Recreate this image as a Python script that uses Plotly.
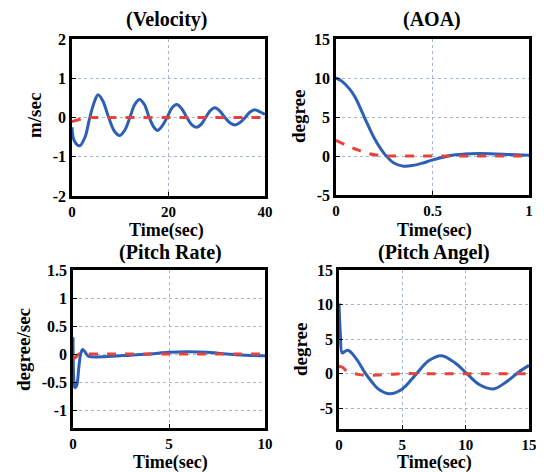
import plotly.graph_objects as go

# ---- data ----
vel_t = [0, 0.5, 1.6, 2.7, 3.6, 4.5, 5.4, 6.4, 7.6, 8.8, 9.9, 10.9, 12.0, 13.0, 14.0, 15.0, 16.0,
         17.0, 17.7, 18.6, 19.7, 20.7, 21.7, 22.7, 23.8, 24.8, 25.8, 26.8, 27.7, 28.7, 29.6,
         30.6, 31.7, 32.8, 33.8, 34.8, 35.9, 36.9, 37.9, 39.0, 40]
vel_blue = [-0.25, -0.6, -0.72, -0.5, -0.05, 0.35, 0.58, 0.42, 0.0, -0.35, -0.46, -0.33, 0.0,
            0.33, 0.46, 0.33, 0.0, -0.25, -0.33, -0.23, 0.0, 0.24, 0.33, 0.23, 0.0, -0.18,
            -0.25, -0.17, 0.0, 0.18, 0.25, 0.17, 0.0, -0.14, -0.19, -0.13, 0.0, 0.14, 0.2, 0.14, 0.08]
vel_red_t = [0, 1, 2, 3, 4, 6, 20, 40]
vel_red = [-0.1, -0.07, -0.03, -0.01, 0, 0, 0, 0]

aoa_t = [0, 0.03, 0.07, 0.1, 0.15, 0.2, 0.25, 0.3, 0.35, 0.4, 0.45, 0.5, 0.55, 0.6, 0.7, 0.8, 0.9, 1.0]
aoa_blue = [10, 9.6, 8.6, 7.5, 4.8, 2.2, 0.3, -0.9, -1.3, -1.2, -0.9, -0.5, -0.2, 0.1, 0.3, 0.3, 0.2, 0.1]
aoa_red_t = [0, 0.05, 0.1, 0.15, 0.2, 0.25, 0.3, 0.4, 0.6, 1.0]
aoa_red = [2, 1.4, 0.9, 0.45, 0.15, 0.02, 0, 0, 0, 0]

pr_t = [0, 0.05, 0.1, 0.2, 0.3, 0.4, 0.5, 0.6, 0.8, 1, 2, 3, 4, 5, 6, 7, 8, 9, 10]
pr_blue = [0.3, -0.5, -0.6, -0.55, -0.25, 0.0, 0.08, 0.05, -0.04, -0.05, -0.04, -0.02, 0.0,
           0.03, 0.04, 0.03, 0.0, -0.02, -0.03]
pr_red_t = [0, 0.1, 0.3, 0.5, 1, 5, 10]
pr_red = [-0.05, -0.07, 0, 0, 0, 0, 0]

pa_t = [0, 0.1, 0.25, 0.45, 0.7, 1.0, 1.5, 2.1, 2.6, 3.1, 4.0, 5.0, 6.0, 7.1, 8.1, 9.2, 10.1,
        11.1, 12.2, 13.2, 14.2, 15]
pa_blue = [10.2, 6, 3.0, 3.2, 3.4, 3.0, 1.8, 0.0, -1.2, -2.2, -2.9, -2.2, -0.25, 1.9, 2.6, 1.5,
           0.0, -1.6, -2.2, -1.2, 0.25, 1.2]
pa_red_t = [0, 0.3, 0.6, 1, 1.5, 2, 3, 4, 5, 7, 15]
pa_red = [1.1, 0.9, 0.4, 0.1, -0.1, -0.2, -0.2, -0.1, 0, 0, 0]

titles = ["(Velocity)", "(AOA)", "(Pitch Rate)", "(Pitch Angel)"]
ylabels = ["m/sec", "degree", "degree/sec", "degree"]
xlabel = "Time(sec)"

x_ticks = [[0, 20, 40], [0, 0.5, 1], [0, 5, 10], [0, 5, 10, 15]]
x_ticktext = [["0", "20", "40"], ["0", "0.5", "1"], ["0", "5", "10"], ["0", "5", "10", "15"]]
y_ticks = [[-2, -1, 0, 1, 2], [-5, 0, 5, 10, 15], [-1, -0.5, 0, 0.5, 1, 1.5], [-5, 0, 5, 10, 15]]
y_ticktext = [["-2", "-1", "0", "1", "2"], ["-5", "0", "5", "10", "15"],
              ["-1", "-0.5", "0", "0.5", "1", "1.5"], ["-5", "0", "5", "10", "15"]]
x_ranges = [[0, 40], [0, 1], [0, 10], [0, 15]]
y_ranges = [[-2, 2], [-5, 15], [-1.32, 1.5], [-8, 15]]

BLUE = "#2d5fb4"
RED = "#e8433a"
FONT = "Liberation Serif"

fig = go.Figure()

panels = [
    (vel_t, vel_blue, vel_red_t, vel_red, "x", "y"),
    (aoa_t, aoa_blue, aoa_red_t, aoa_red, "x2", "y2"),
    (pr_t, pr_blue, pr_red_t, pr_red, "x3", "y3"),
    (pa_t, pa_blue, pa_red_t, pa_red, "x4", "y4"),
]
for bt, bv, rt, rv, xa, ya in panels:
    fig.add_trace(go.Scatter(x=bt, y=bv, mode="lines", line=dict(color=BLUE, width=3, shape="spline"),
                             xaxis=xa, yaxis=ya, showlegend=False))
    fig.add_trace(go.Scatter(x=rt, y=rv, mode="lines", line=dict(color=RED, width=3, dash="dash", shape="spline"),
                             xaxis=xa, yaxis=ya, showlegend=False))

# page body has an 8px margin; lay the figure out in window pixels minus that offset
OFF = 8
W, H = 544 - OFF, 472 - OFF

def px_x(a):
    return (a - OFF) / W

def px_y(a):
    return 1 - (a - OFF) / H

def dom_x(a, b):
    return [px_x(a), px_x(b)]

def dom_y(top, bot):
    return [px_y(bot), px_y(top)]

tickfont = dict(family=FONT, size=16, color="black", weight="bold")
xtickfont = dict(family=FONT, size=15, color="black", weight="bold")
common = dict(showline=True, linewidth=2.5, linecolor="black", mirror=True, showgrid=True,
              gridcolor="#a7b6d0", griddash="dot", gridwidth=1, zeroline=False,
              ticks="inside", ticklen=4, tickcolor="black", automargin=False)

domains = [
    (dom_x(72, 265), dom_y(39, 196)),
    (dom_x(336, 529), dom_y(39, 195)),
    (dom_x(73, 265), dom_y(270, 428)),
    (dom_x(339, 529), dom_y(270, 429)),
]
layout = {}
for i, (dx, dy) in enumerate(domains):
    s = "" if i == 0 else str(i + 1)
    layout["xaxis" + s] = dict(domain=dx, range=x_ranges[i], tickvals=x_ticks[i], ticktext=x_ticktext[i],
                               anchor="y" + s, tickfont=xtickfont, **common)
    layout["yaxis" + s] = dict(domain=dy, range=y_ranges[i], tickvals=y_ticks[i], ticktext=y_ticktext[i],
                               anchor="x" + s, tickfont=tickfont, **common)

fig.update_layout(**layout)

title_font = dict(family=FONT, size=20, color="black", weight="bold")
ann_font = dict(family=FONT, size=19, color="black", weight="bold")
xlab_font = dict(family=FONT, size=18, color="black", weight="bold")
ann = []
title_pos = [(166, 20), (432, 20), (170, 252), (434, 252)]
xlab_pos = [(166, 230), (434, 230), (170, 462), (434, 462)]
ylab_pos = [(35, 116), (298, 117), (23, 350), (300, 350)]
for i in range(4):
    tx, ty = title_pos[i]
    ann.append(dict(text=titles[i], x=px_x(tx), y=px_y(ty), xref="paper", yref="paper",
                    showarrow=False, font=title_font, xanchor="center", yanchor="middle"))
    lx, ly = xlab_pos[i]
    ann.append(dict(text=xlabel, x=px_x(lx), y=px_y(ly), xref="paper", yref="paper",
                    showarrow=False, font=xlab_font, xanchor="center", yanchor="middle"))
    yx, yy = ylab_pos[i]
    ann.append(dict(text=ylabels[i], x=px_x(yx), y=px_y(yy), xref="paper", yref="paper",
                    showarrow=False, font=ann_font, textangle=-90, xanchor="center", yanchor="middle"))

fig.update_layout(annotations=ann, width=W, height=H,
                  margin=dict(l=0, r=0, t=0, b=0, pad=0, autoexpand=False),
                  paper_bgcolor="white", plot_bgcolor="white", showlegend=False,
                  font=dict(family=FONT, color="black"))

fig.write_html("out.html")
